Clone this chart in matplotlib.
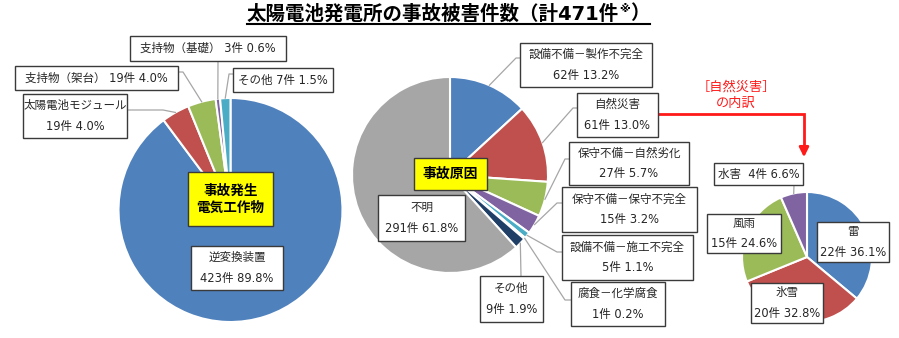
import matplotlib
matplotlib.use('Agg')
import math
import matplotlib.pyplot as plt
from matplotlib.patches import Rectangle

plt.rcParams['font.family'] = ['DejaVu Sans', 'Noto Sans CJK JP']

W, H = 899, 338

# 事故発生電気工作物
equip_names = ['逆変換装置', '太陽電池モジュール', '支持物（架台）', '支持物（基礎）', 'その他']
equip_counts = [423, 19, 19, 3, 7]

# 事故原因
cause_names = ['設備不備－製作不完全', '自然災害', '保守不備－自然劣化', '保守不備－保守不完全',
               '設備不備－施工不完全', '腐食－化学腐食', 'その他', '不明']
cause_counts = [62, 61, 27, 15, 5, 1, 9, 291]

# 自然災害の内訳
disaster_names = ['雷', '氷雪', '風雨', '水害']
disaster_counts = [22, 20, 15, 4]

equip_colors = ['#4F81BD', '#C0504D', '#9BBB59', '#8064A2', '#4BACC6']
cause_colors = ['#4F81BD', '#C0504D', '#9BBB59', '#8064A2', '#4BACC6', '#F79646', '#1F3F66', '#A6A6A6']
disaster_colors = ['#4F81BD', '#C0504D', '#9BBB59', '#8064A2']

TXT = '#262626'
EDGE = '#3A3A3A'
LEAD = '#A6A6A6'
RED = '#FF1A1A'

fig = plt.figure(figsize=(W / 100, H / 100), dpi=100)
ax = fig.add_axes([0, 0, 1, 1])


def py(y):
    # pixel row (top-down) -> data y
    return H - y


def draw_pie(counts, colors, cx, cy, r):
    wedges, _ = ax.pie(counts, colors=colors, startangle=90, counterclock=False,
                       radius=r, center=(cx, py(cy)),
                       wedgeprops=dict(edgecolor='white', linewidth=1.5))
    return wedges


def edge_point(w):
    mid = math.radians((w.theta1 + w.theta2) / 2)
    cx, cy = w.center
    return cx + w.r * math.cos(mid), cy + w.r * math.sin(mid)


def box(x0, y0, x1, y1, text, face='white', bold=False, size=8.3, ls=1.75, color=TXT):
    ax.add_patch(Rectangle((x0, py(y1)), x1 - x0, y1 - y0, facecolor=face,
                           edgecolor=EDGE, lw=1.0, zorder=3))
    ax.text((x0 + x1) / 2, py((y0 + y1) / 2), text, ha='center', va='center',
            fontsize=size, fontweight='bold' if bold else 'normal', color=color,
            linespacing=ls, zorder=4)


def labels(wedges, names, counts, total, layout):
    for w, name, n, (rect, stub, two, sep) in zip(wedges, names, counts, layout):
        pct = f'{n / total * 100:.1f}%'
        text = f'{name}\n{n}件 {pct}' if two else f'{name}{sep}{n}件 {pct}'
        box(*rect, text)
        if stub:
            pts = [(x, py(y)) for x, y in stub] + [edge_point(w)]
            xs, ys = zip(*pts)
            ax.plot(xs, ys, color=LEAD, lw=0.9, zorder=2)


# left pie: equipment
total = sum(equip_counts)
w_eq = draw_pie(equip_counts, equip_colors, 230.5, 210, 112)
labels(w_eq, equip_names, equip_counts, total, [
    ((191, 246, 283, 290), None, True, ''),
    ((23, 94, 127, 138), [(127, 110), (163, 110)], True, ''),
    ((15, 66, 178, 90), [(178, 72), (183, 72)], False, ' '),
    ((130, 36, 286, 61), [(218, 61)], False, ' '),
    ((233, 68, 333, 92), [(233, 74), (229, 74)], False, ' '),
])
box(188, 172, 273, 226, '事故発生\n電気工作物', face='#FFFF00', bold=True, size=9.8, ls=1.25, color='black')

# middle pie: causes
w_ca = draw_pie(cause_counts, cause_colors, 450, 175, 98)
labels(w_ca, cause_names, cause_counts, total, [
    ((520, 43, 652, 87), [(520, 58), (516, 58)], True, ''),
    ((577, 93, 658, 137), [(577, 108), (573, 108)], True, ''),
    ((569, 142, 689, 185), [(569, 159), (565, 159)], True, ''),
    ((562, 187, 697, 232), [(562, 203), (557, 203)], True, ''),
    ((562, 235, 693, 280), [(562, 252), (557, 252)], True, ''),
    ((571, 282, 665, 326), [(571, 300), (565, 300)], True, ''),
    ((480, 276, 543, 322), [(521, 276)], True, ''),
    ((378, 195, 465, 241), None, True, ''),
])
box(414, 158, 487, 190, '事故原因', face='#FFFF00', bold=True, size=10, color='black')

# right pie: natural disasters breakdown
dis_total = sum(disaster_counts)
w_di = draw_pie(disaster_counts, disaster_colors, 807, 257, 65)
labels(w_di, disaster_names, disaster_counts, dis_total, [
    ((817, 222, 889, 262), None, True, ''),
    ((751, 283, 823, 323), None, True, ''),
    ((707, 214, 781, 253), None, True, ''),
    ((714, 163, 803, 185), [(794, 185)], False, '  '),
])

# red callout from 自然災害 to the breakdown pie
ax.plot([658, 804, 804], [py(114), py(114), py(150)], color=RED, lw=2, zorder=2,
        solid_joinstyle='miter')
ax.annotate('', xy=(804, py(160)), xytext=(804, py(148)),
            arrowprops=dict(arrowstyle='-|>', color=RED, lw=2, mutation_scale=14))
ax.text(736, py(87), '［自然災害］', ha='center', va='center', fontsize=9.5, color=RED)
ax.text(736, py(103), 'の内訳', ha='center', va='center', fontsize=9.5, color=RED)

ax.set_xlim(0, W)
ax.set_ylim(0, H)
ax.set_aspect('equal')
ax.axis('off')

# title with superscript ※, underlined
fig.canvas.draw()
r = fig.canvas.get_renderer()
x0 = 247
t1 = ax.text(x0, py(14), f'太陽電池発電所の事故被害件数（計{total}件', ha='left', va='center',
             fontsize=14, fontweight='bold', color='black')
x = t1.get_window_extent(r).x1
t2 = ax.text(x, py(9), '※', ha='left', va='center', fontsize=8, fontweight='bold', color='black')
x = t2.get_window_extent(r).x1
t3 = ax.text(x, py(14), '）', ha='left', va='center', fontsize=14, fontweight='bold', color='black')
x = t3.get_window_extent(r).x1
ax.plot([x0, x], [py(24), py(24)], color='black', lw=1.5)

fig.savefig('out.png', dpi=100)
